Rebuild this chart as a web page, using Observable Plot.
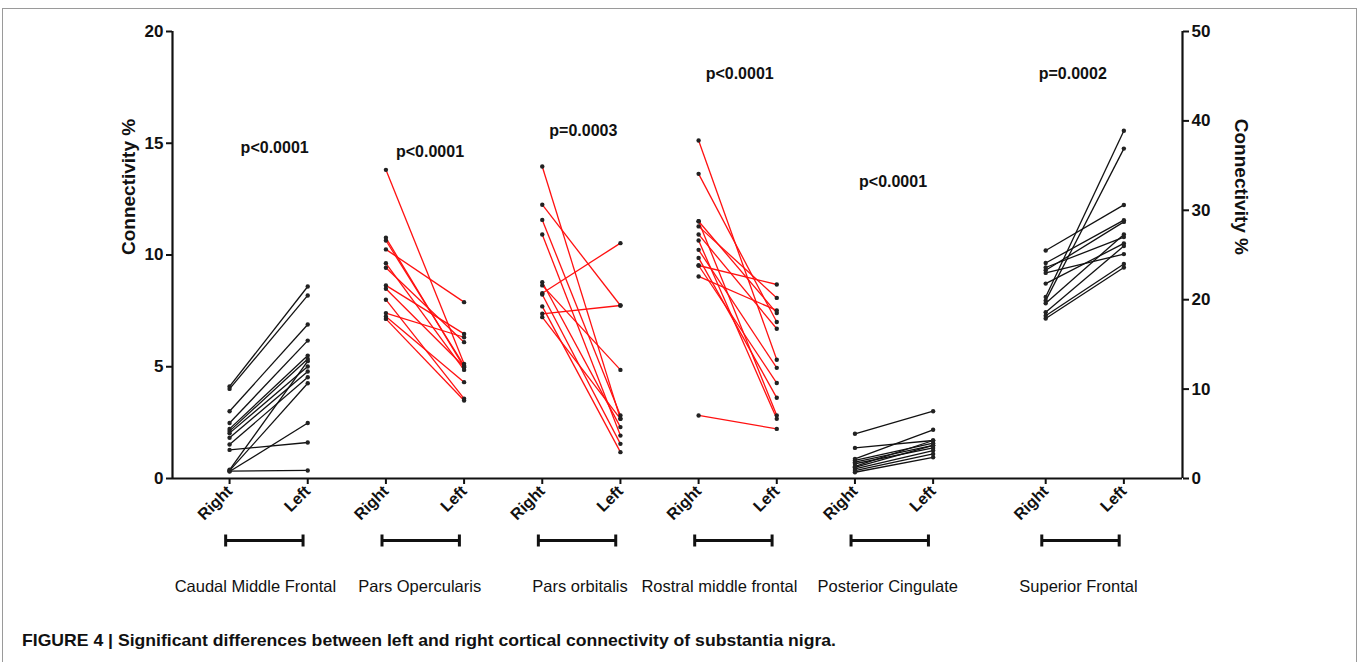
<!DOCTYPE html>
<html><head><meta charset="utf-8">
<script src="https://cdn.jsdelivr.net/npm/d3@7"></script>
<script src="https://cdn.jsdelivr.net/npm/@observablehq/plot@0.6"></script>
<style>
body{margin:0;background:#fff;font-family:"Liberation Sans",Arial,sans-serif;}
#frame{position:absolute;left:2px;top:8px;width:1355px;height:700px;border:1px solid #9a9a9a;box-sizing:border-box;}
#chart{position:absolute;left:0;top:0;}
#caption{position:absolute;left:22px;top:631px;line-height:19px;font-weight:bold;font-size:17px;font-family:"Liberation Sans Narrow","Arial Narrow","Liberation Sans",sans-serif;color:#111;white-space:nowrap;transform-origin:0 50%;}
</style></head><body>
<div id="frame"></div>
<div id="chart"></div>
<div id="caption"></div>
<script>
// ---- data ----
const groups = ["Caudal Middle Frontal","Pars Opercularis","Pars orbitalis","Rostral middle frontal","Posterior Cingulate","Superior Frontal"];
const pLabels = ["p<0.0001","p<0.0001","p=0.0003","p<0.0001","p<0.0001","p=0.0002"];
const sides = ["Right","Left"];
const leftTicks = [0,5,10,15,20];
const rightTicks = [0,10,20,30,40,50];
const axisTitle = "Connectivity %";
const captionText = "FIGURE 4 | Significant differences between left and right cortical connectivity of substantia nigra.";

// left-axis units
const caudalRight = [4.12,4.01,3.01,2.48,2.22,2.12,2.03,1.82,1.52,1.28,0.39,0.35,0.31,0.33];
const caudalLeft  = [8.59,8.19,6.89,6.17,5.50,5.35,5.01,4.79,4.53,1.61,5.25,4.26,2.48,0.36];
const opercRight  = [13.81,10.77,10.65,10.25,9.63,9.43,8.64,8.49,8.00,7.40,7.25,7.14];
const opercLeft   = [5.13,4.98,5.05,7.89,4.86,6.10,6.47,5.00,3.57,6.32,4.31,3.49];
const orbitRight  = [13.96,12.25,11.57,10.92,8.78,8.64,8.29,8.23,7.70,7.37,7.22];
const orbitLeft   = [2.67,7.74,2.82,1.92,2.30,4.86,10.53,1.55,1.18,7.74,2.67];
const rostralRight= [15.12,13.63,11.51,11.51,11.28,10.92,10.65,10.23,9.87,9.53,9.53,9.04,2.82];
const rostralLeft = [5.31,7.00,7.40,2.82,8.08,6.70,2.67,4.95,3.61,8.68,4.27,7.52,2.22];
const cingRight   = [2.00,1.37,0.88,0.81,0.73,0.66,0.54,0.50,0.43,0.35,0.28];
const cingLeft    = [3.01,1.70,2.18,1.58,1.48,1.37,1.70,1.48,1.25,1.10,0.95];
// right-axis units (0-50)
const supRight    = [25.5,24.1,23.6,23.3,23.0,21.8,20.3,19.9,19.6,18.6,18.2,17.9];
const supLeft     = [30.6,28.9,27.0,28.7,25.1,26.3,38.9,36.9,27.3,26.0,24.0,23.6];

// ---- layout (not data) ----
const toLeft = 20 / 50;          // right-axis -> left-axis units
const lastGap = 0.44;            // extra gap before Superior Frontal
const xDomain = [-0.73, 12.19];
const mL = 172, mR = 178, W = 1360;
const pxPerUnit = (W - mL - mR) / (xDomain[1] - xDomain[0]);
const redGroups = new Set([1,2,3]);
const pLabelY = [14.8,14.6,15.57,18.12,13.29,18.12];
const pLabelDx = [6,5,2,2,-1,-12];
const nameDx = [-9,-1,3,-14,-2,-2];

const series = [
  [caudalRight, caudalLeft, 1],
  [opercRight, opercLeft, 1],
  [orbitRight, orbitLeft, 1],
  [rostralRight, rostralLeft, 1],
  [cingRight, cingLeft, 1],
  [supRight, supLeft, toLeft]
];
const xPos = (g, s) => 2*g + s + (g === 5 ? lastGap : 0);

const pairs = [];
series.forEach(([R, L, k], g) => R.forEach((r, i) => pairs.push({g, r: r*k, l: L[i]*k})));
const points = pairs.flatMap(d => [{x: xPos(d.g,0), y: d.r}, {x: xPos(d.g,1), y: d.l}]);

const xTicks = [];
const xTickLabel = new Map();
groups.forEach((_, g) => sides.forEach((s, si) => { const p = xPos(g, si); xTicks.push(p); xTickLabel.set(p, s); }));

const groupTable = groups.map((name, g) => ({name, g, x1: xPos(g,0) - 0.05, x2: xPos(g,1) - 0.06, p: pLabels[g]}));
const caps = groupTable.flatMap(d => [{x: d.x1}, {x: d.x2}]);

const vbar = {draw(ctx, size){ const h = Math.sqrt(size/Math.PI); ctx.moveTo(0,-h); ctx.lineTo(0,h); }};

const font = '"Liberation Sans", Arial, sans-serif';
const chart = Plot.plot({
  width: W, height: 620,
  marginTop: 31, marginBottom: 142, marginLeft: mL, marginRight: mR,
  style: {fontFamily: font, background: "transparent", color: "#111", overflow: "visible"},
  x: {type: "linear", domain: xDomain},
  y: {domain: [0, 20]},
  marks: [
    // axis lines
    Plot.ruleY([0], {stroke: "#111", strokeWidth: 2.2}),
    Plot.ruleX([xDomain[0]], {y1: 0, y2: 20, stroke: "#111", strokeWidth: 2.2}),
    Plot.ruleX([xDomain[1]], {y1: 0, y2: 20, stroke: "#111", strokeWidth: 2.2}),
    Plot.axisY(leftTicks, {anchor: "left", tickSize: 6, tickPadding: 3, strokeWidth: 2, fontSize: 17, fontWeight: "bold", label: null}),
    Plot.axisY(rightTicks.map(t => t*toLeft), {anchor: "right", tickSize: 6, tickPadding: 3, strokeWidth: 2, fontSize: 17, fontWeight: "bold", label: null,
      tickFormat: d => String(Math.round(d/toLeft))}),
    Plot.axisX(xTicks, {anchor: "bottom", tickSize: 6, tickPadding: 4, strokeWidth: 2, tickRotate: -45, fontSize: 16, fontWeight: "bold", label: null,
      tickFormat: d => xTickLabel.get(d)}),
    // axis titles
    Plot.text([axisTitle], {frameAnchor: "left", rotate: -90, dx: -44, fontSize: 19, fontWeight: "bold", text: d => d}),
    Plot.text([axisTitle], {frameAnchor: "right", rotate: 90, dx: 59, fontSize: 19, fontWeight: "bold", text: d => d}),
    // paired lines
    Plot.link(pairs.filter(d => !redGroups.has(d.g)), {x1: d => xPos(d.g,0), x2: d => xPos(d.g,1), y1: "r", y2: "l", stroke: "#111", strokeWidth: 1.3}),
    Plot.link(pairs.filter(d => redGroups.has(d.g)), {x1: d => xPos(d.g,0), x2: d => xPos(d.g,1), y1: "r", y2: "l", stroke: "#ff1010", strokeWidth: 1.3}),
    Plot.dot(points, {x: "x", y: "y", r: 2.2, fill: "#222"}),
    // p-values
    Plot.text(groupTable, {x: d => xPos(d.g,0) + 0.5 + pLabelDx[d.g]/pxPerUnit, y: d => pLabelY[d.g], text: "p", fontSize: 16, fontWeight: "bold"}),
    // brackets
    Plot.ruleY(groupTable, {y: 0, x1: "x1", x2: "x2", dy: 62, stroke: "#111", strokeWidth: 3}),
    Plot.dot(caps, {x: "x", y: 0, dy: 62, symbol: vbar, r: 6, stroke: "#111", strokeWidth: 3, fill: "none"}),
    // group names
    Plot.text(groupTable, {x: d => (d.x1 + d.x2)/2 + nameDx[d.g]/pxPerUnit, y: 0, dy: 108, text: "name", fontSize: 16.5, fill: "#111"})
  ]
});
document.getElementById("chart").appendChild(chart);
const cap = document.getElementById("caption");
cap.textContent = captionText;
const w = cap.getBoundingClientRect().width;
if (w > 0) cap.style.transform = `scaleX(${814 / w})`;
</script>
</body></html>
